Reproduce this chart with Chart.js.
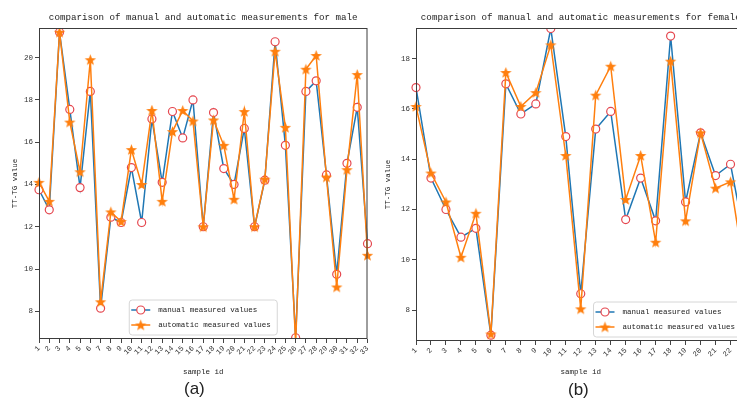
<!DOCTYPE html>
<html lang="en">
<head>
<meta charset="utf-8">
<title>comparison of manual and automatic measurements</title>
<script src="https://cdn.jsdelivr.net/npm/chart.js@4"></script>
<style>
  html, body { margin: 0; padding: 0; background: #fff; }
  body { width: 737px; height: 401px; overflow: hidden; position: relative; }
  .box { position: absolute; top: 0; height: 380px; }
  .cap { position: absolute; font-family: "Liberation Sans", "DejaVu Sans", sans-serif; font-size: 17px; color: #222; }
</style>
</head>
<body>
<div class="box" style="left:0; width:375px"><canvas id="male"></canvas></div>
<div class="box" style="left:377px; width:376px"><canvas id="female"></canvas></div>
<div class="cap" style="left:184px; top:379px">(a)</div>
<div class="cap" style="left:568px; top:380px">(b)</div>

<script>
// male samples (a)
const maleIds = ['1','2','3','4','5','6','7','8','9','10','11','12','13','14','15','16','17',
                 '18','19','20','21','22','23','24','25','26','27','28','29','30','31','32','33'];
const maleManual = [13.75, 12.8, 21.2, 17.55, 13.85, 18.4, 8.15, 12.45, 12.2, 14.8, 12.2,
                    17.1, 14.1, 17.45, 16.2, 18.0, 12.0, 17.4, 14.75, 14.0, 16.65, 12.0,
                    14.2, 20.75, 15.85, 6.75, 18.4, 18.9, 14.45, 9.75, 15.0, 17.65, 11.2];
const maleAuto = [14.1, 13.2, 21.2, 16.95, 14.6, 19.9, 8.45, 12.7, 12.25, 15.65, 14.0,
                  17.5, 13.2, 16.5, 17.5, 17.0, 12.0, 17.05, 15.85, 13.3, 17.45, 12.0,
                  14.25, 20.3, 16.7, 6.5, 19.45, 20.1, 14.35, 9.15, 14.7, 19.2, 10.65];
const maleYTicks = [8, 10, 12, 14, 16, 18, 20];

// female samples (b)
const femaleIds = ['1','2','3','4','5','6','7','8','9','10','11','12','13','14','15','16',
                   '17','18','19','20','21','22','23'];
const femaleManual = [16.85, 13.25, 12.0, 10.9, 11.25, 7.0, 17.0, 15.8, 16.2, 19.2, 14.9,
                      8.65, 15.2, 15.9, 11.6, 13.25, 11.55, 18.9, 12.3, 15.05, 13.35, 13.8, 10.7];
const femaleAuto = [16.1, 13.45, 12.3, 10.1, 11.85, 7.05, 17.45, 16.1, 16.65, 18.55, 14.15,
                    8.05, 16.55, 17.7, 12.4, 14.15, 10.7, 17.9, 11.55, 15.05, 12.85, 13.1, 9.3];
const femaleYTicks = [8, 10, 12, 14, 16, 18];

const MONO = '"Liberation Mono", "DejaVu Sans Mono", monospace';
const BLUE = '#1f77b4';
const ORANGE = '#ff7f0e';
const RING = '#e5474f';

// filled five point star, like matplotlib's '*' marker
function makeStar(size, color) {
  const c = document.createElement('canvas');
  c.width = size; c.height = size;
  const g = c.getContext('2d');
  const R = size / 2 - 0.5, r = R * 0.42, cx = size / 2, cy = size / 2 + 0.5;
  g.beginPath();
  for (let i = 0; i < 10; i++) {
    const rad = i % 2 ? r : R;
    const a = -Math.PI / 2 + i * Math.PI / 5;
    g.lineTo(cx + rad * Math.cos(a), cy + rad * Math.sin(a));
  }
  g.closePath();
  g.fillStyle = color;
  g.fill();
  return c;
}
const star = makeStar(13, ORANGE);

// axes frame, title and in-plot legend
const framePlugin = {
  id: 'frame',
  afterDatasetsDraw(chart, args, opts) {
    const { ctx, chartArea: a } = chart;
    ctx.save();
    ctx.strokeStyle = '#3c3c3c';
    ctx.lineWidth = 1;
    ctx.strokeRect(a.left + 0.5, a.top + 0.5, a.right - a.left - 1, a.bottom - a.top - 1);

    ctx.fillStyle = '#222';
    ctx.font = '9.2px ' + MONO;
    ctx.textAlign = 'center';
    ctx.textBaseline = 'middle';
    ctx.fillText(opts.title, (a.left + a.right) / 2, 17.5);

    const w = 148, h = 35;
    const x0 = opts.legendAt === 'right' ? a.right - 4 - w : (a.left + a.right) / 2 - w / 2;
    const y0 = a.bottom - 4 - h;
    ctx.beginPath();
    ctx.roundRect(x0, y0, w, h, 3);
    ctx.fillStyle = 'rgba(255,255,255,0.85)';
    ctx.fill();
    ctx.strokeStyle = '#d6d6d6';
    ctx.stroke();

    const rows = [
      { y: y0 + 10, color: BLUE, text: 'manual measured values' },
      { y: y0 + 25, color: ORANGE, text: 'automatic measured values' }
    ];
    rows.forEach((row, i) => {
      ctx.beginPath();
      ctx.moveTo(x0 + 2, row.y);
      ctx.lineTo(x0 + 21, row.y);
      ctx.strokeStyle = row.color;
      ctx.lineWidth = 1.5;
      ctx.stroke();
      if (i === 0) {
        ctx.beginPath();
        ctx.arc(x0 + 11.5, row.y, 4, 0, Math.PI * 2);
        ctx.fillStyle = '#fff';
        ctx.fill();
        ctx.strokeStyle = RING;
        ctx.lineWidth = 1.2;
        ctx.stroke();
      } else {
        ctx.drawImage(star, x0 + 11.5 - star.width / 2, row.y - star.height / 2);
      }
      ctx.fillStyle = '#222';
      ctx.font = '7.5px ' + MONO;
      ctx.textAlign = 'left';
      ctx.fillText(row.text, x0 + 29, row.y);
    });
    ctx.restore();
  }
};

function drawPanel(id, ids, manual, auto, yMin, yMax, yTicks, opt) {
  return new Chart(document.getElementById(id), {
    type: 'line',
    data: {
      labels: ids,
      datasets: [{
        label: 'manual measured values',
        data: manual,
        borderColor: BLUE,
        borderWidth: 1.5,
        pointStyle: 'circle',
        pointRadius: 4,
        pointBorderColor: RING,
        pointBackgroundColor: '#fff',
        pointBorderWidth: 1.2,
        order: 1
      }, {
        label: 'automatic measured values',
        data: auto,
        borderColor: ORANGE,
        borderWidth: 1.5,
        pointStyle: star,
        pointRadius: 6,
        order: 0
      }]
    },
    options: {
      responsive: true,
      maintainAspectRatio: false,
      animation: false,
      events: [],
      layout: { padding: { top: 28, right: 3, left: 0, bottom: 0 } },
      plugins: {
        legend: { display: false },
        tooltip: { enabled: false },
        frame: { title: opt.title, legendAt: opt.legendAt }
      },
      scales: {
        x: {
          border: { display: false },
          grid: { drawOnChartArea: false, drawTicks: true, tickLength: 4, color: '#444' },
          ticks: { autoSkip: false, minRotation: 45, maxRotation: 45, padding: 1,
                   color: '#333', font: { family: MONO, size: 7.5 } },
          title: { display: true, text: 'sample id', color: '#222',
                   font: { family: MONO, size: 7.5 }, padding: { top: 0, bottom: 3.5 } },
          afterFit: s => { s.height = opt.xHeight; s.paddingLeft = 0; s.paddingRight = 0; }
        },
        y: {
          min: yMin,
          max: yMax,
          border: { display: false },
          grid: { drawOnChartArea: false, drawTicks: true, tickLength: 4, color: '#444' },
          ticks: { padding: 2, color: '#333', font: { family: MONO, size: 7.5 } },
          title: { display: true, text: 'TT-TG value', color: '#222',
                   font: { family: MONO, size: 7.5 }, padding: { top: opt.yTitlePad, bottom: 0 } },
          afterBuildTicks: s => { s.ticks = yTicks.map(v => ({ value: v })); },
          afterFit: s => { s.width = 39; s.paddingTop = 0; s.paddingBottom = 0; }
        }
      }
    },
    plugins: [framePlugin]
  });
}

drawPanel('male', maleIds, maleManual, maleAuto, 6.69, 21.4, maleYTicks, {
  title: 'comparison of manual and automatic measurements for male',
  legendAt: 'center', xHeight: 41, yTitlePad: 10.5
});
drawPanel('female', femaleIds, femaleManual, femaleAuto, 6.77, 19.22, femaleYTicks, {
  title: 'comparison of manual and automatic measurements for female',
  legendAt: 'right', xHeight: 39, yTitlePad: 6.5
});
</script>
</body>
</html>
